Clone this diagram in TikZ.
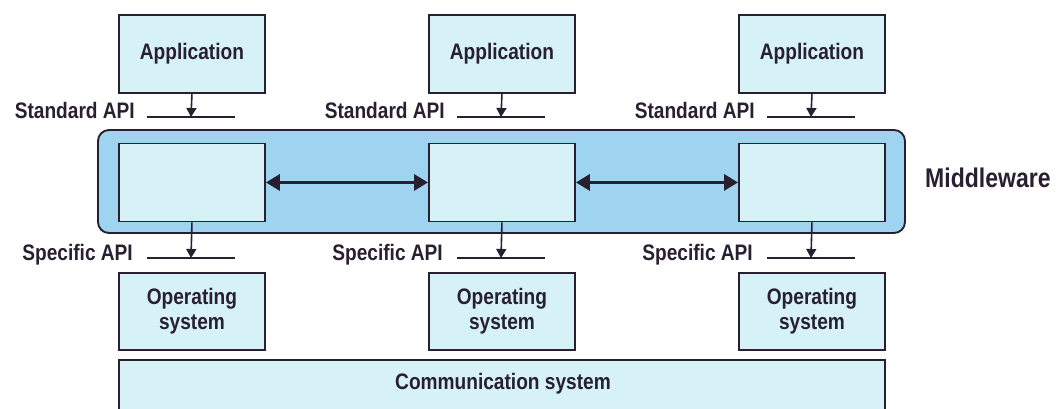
\documentclass[tikz,border=0pt]{standalone}
\usepackage{fontspec}
\setmainfont{Liberation Sans}
\usetikzlibrary{arrows.meta,calc}
\definecolor{boxfill}{RGB}{214,242,246}
\definecolor{mwfill}{RGB}{158,212,240}
\definecolor{ink}{RGB}{40,32,48}
% bold label text, set a little taller than normal
\newcommand{\tall}[1]{\scalebox{0.98}[1.15]{#1}}
\tikzset{
  pbox/.style={draw=ink, line width=1.9pt, fill=boxfill, inner sep=0pt},
  lbl/.style={font=\bfseries\fontsize{19.5}{25}\selectfont, text=ink, inner sep=0pt},
  apiline/.style={draw=ink, line width=2.6pt},
  callarrow/.style={draw=ink, line width=1.6pt, -{Triangle[width=10pt,length=9pt]}},
  linkarrow/.style={draw=ink, line width=3.2pt, {Triangle[width=16pt,length=14pt]}-{Triangle[width=16pt,length=14pt]}}
}
\begin{document}
\begin{tikzpicture}[x=1pt, y=-1pt]
\useasboundingbox (0,0) rectangle (1059,409);
\clip (0,0) rectangle (1059,409);

% middleware band
\node[draw=ink, line width=1.9pt, fill=mwfill, rounded corners=11pt, inner sep=0pt,
      minimum width=807pt, minimum height=103pt] (mw) at (501.5,181.5) {};
\node[lbl, font=\bfseries\fontsize{23.5}{27}\selectfont, anchor=west] (mwlabel) at (925,178) {\tall{Middleware}};

% communication system
\node[pbox, minimum width=766pt, minimum height=70pt, anchor=north west] (comm) at (118,359) {};
\node[lbl] (commlabel) at (503,384) {\tall{Communication system}};

\foreach \i/\x in {1/118, 2/428, 3/738} {
  % application
  \node[pbox, minimum width=146pt, minimum height=78pt, anchor=north west,
        label={[lbl]center:\tall{Application}}] (app\i) at (\x,14) {};
  % middleware component
  \node[pbox, minimum width=146pt, minimum height=78pt, anchor=north west] (mid\i) at (\x,142.5) {};
  % operating system
  \node[pbox, minimum width=146pt, minimum height=77pt, anchor=north west,
        align=center, lbl] (os\i) at (\x,272) {\tall{Operating}\\\tall{system}};
  % standard API
  \coordinate (sa\i) at ($(\x,117)+(29,0)$);
  \coordinate (sb\i) at ($(\x,117)+(117,0)$);
  \coordinate (st\i) at ($(\x,117)+(73,0)$);
  \node[lbl, anchor=base east] (stdlbl\i) at ($(\x,119)+(17,0)$) {\tall{Standard API}};
  \draw[apiline] (sa\i) -- (sb\i);
  \draw[callarrow] (app\i.south) -- (st\i);
  % specific API
  \coordinate (pa\i) at ($(\x,258)+(29,0)$);
  \coordinate (pb\i) at ($(\x,258)+(117,0)$);
  \coordinate (pt\i) at ($(\x,258)+(73,0)$);
  \node[lbl, anchor=base east] (spclbl\i) at ($(\x,260)+(15,0)$) {\tall{Specific API}};
  \draw[apiline] (pa\i) -- (pb\i);
  \draw[callarrow] (mid\i.south) -- (pt\i);
}

\draw[linkarrow] (mid1.east) -- (mid2.west);
\draw[linkarrow] (mid2.east) -- (mid3.west);
\end{tikzpicture}
\end{document}
